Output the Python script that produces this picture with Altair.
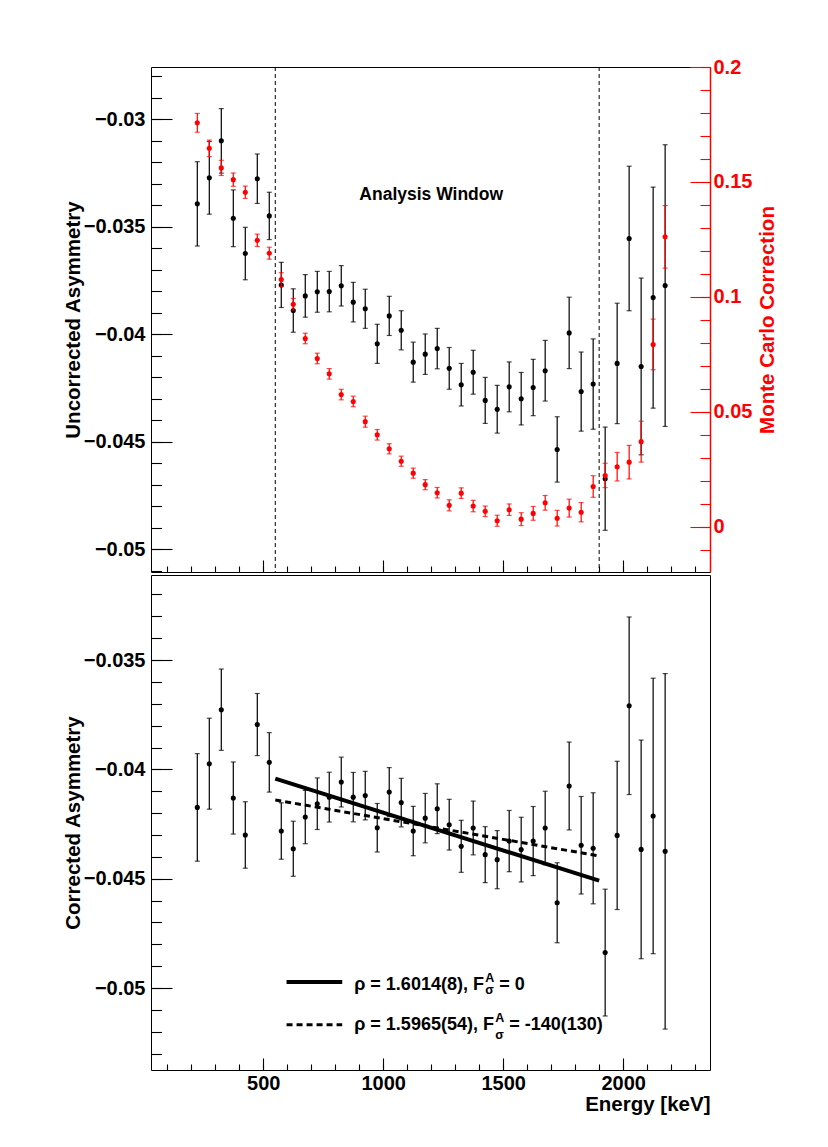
import altair as alt
import pandas as pd

FONT = "Liberation Sans"
RED = "#ff0000"

# ---------------- data ----------------
energy = [225, 275, 325, 375, 425, 475, 525, 575, 625, 675,
          725, 775, 825, 875, 925, 975, 1025, 1075, 1125, 1175,
          1225, 1275, 1325, 1375, 1425, 1475, 1525, 1575, 1625, 1675,
          1725, 1775, 1825, 1875, 1925, 1975, 2025, 2075, 2125, 2175]

uncorr = [-0.03393, -0.03272, -0.03100, -0.03460, -0.03624, -0.03276, -0.03449, -0.03770, -0.03889, -0.03821,
          -0.03802, -0.03801, -0.03774, -0.03850, -0.03881, -0.04044, -0.03914, -0.03981, -0.04129, -0.04092,
          -0.04066, -0.04158, -0.04234, -0.04176, -0.04307, -0.04348, -0.04244, -0.04299, -0.04247, -0.04169,
          -0.04535, -0.03993, -0.04266, -0.04231, -0.04671, -0.04135, -0.03554, -0.04149, -0.03829, -0.03773]
uncorr_err = [0.00196, 0.00169, 0.00150, 0.00132, 0.00122, 0.00115, 0.00110, 0.00105, 0.00101, 0.00099,
              0.00095, 0.00094, 0.00094, 0.00092, 0.00091, 0.00091, 0.00091, 0.00091, 0.00093, 0.00094,
              0.00094, 0.00097, 0.00099, 0.00102, 0.00107, 0.00111, 0.00116, 0.00122, 0.00131, 0.00141,
              0.00152, 0.00166, 0.00184, 0.00210, 0.00240, 0.00280, 0.00336, 0.00411, 0.00514, 0.00655]

mc_corr = [0.1757, 0.1646, 0.1561, 0.1510, 0.1455, 0.1246, 0.1190, 0.1075, 0.0968, 0.0819,
           0.0732, 0.0665, 0.0575, 0.0545, 0.0457, 0.0400, 0.0339, 0.0285, 0.0233, 0.0183,
           0.0148, 0.0093, 0.0146, 0.0090, 0.0067, 0.0026, 0.0074, 0.0033, 0.0058, 0.0104,
           0.0037, 0.0081, 0.0063, 0.0175, 0.0223, 0.0261, 0.0281, 0.0370, 0.0793, 0.1261]
mc_err = [0.0041, 0.0036, 0.0033, 0.0029, 0.0027, 0.0027, 0.0026, 0.0030, 0.0025, 0.0023,
          0.0023, 0.0023, 0.0023, 0.0023, 0.0024, 0.0023, 0.0022, 0.0022, 0.0022, 0.0022,
          0.0023, 0.0024, 0.0023, 0.0025, 0.0023, 0.0024, 0.0025, 0.0028, 0.0030, 0.0032,
          0.0034, 0.0039, 0.0042, 0.0047, 0.0053, 0.0062, 0.0073, 0.0089, 0.0110, 0.0136]

corr = [-0.04174, -0.03974, -0.03727, -0.04131, -0.04300, -0.03795, -0.03968, -0.04282, -0.04363, -0.04218,
        -0.04157, -0.04127, -0.04058, -0.04127, -0.04120, -0.04267, -0.04104, -0.04152, -0.04282, -0.04223,
        -0.04180, -0.04253, -0.04352, -0.04268, -0.04390, -0.04413, -0.04328, -0.04367, -0.04328, -0.04268,
        -0.04610, -0.04076, -0.04347, -0.04361, -0.04838, -0.04302, -0.03709, -0.04366, -0.04213, -0.04375]
corr_err = [0.00246, 0.00208, 0.00186, 0.00165, 0.00152, 0.00142, 0.00136, 0.00129, 0.00126, 0.00122,
            0.00118, 0.00114, 0.00114, 0.00113, 0.00111, 0.00111, 0.00112, 0.00111, 0.00113, 0.00113,
            0.00114, 0.00116, 0.00119, 0.00123, 0.00128, 0.00133, 0.00140, 0.00148, 0.00158, 0.00168,
            0.00183, 0.00201, 0.00223, 0.00254, 0.00290, 0.00339, 0.00406, 0.00500, 0.00630, 0.00813]

window_edges = [550, 1900]
fit_x = [550, 1900]
fit_const = [-0.04042, -0.04509]     # rho = 1.6014(8), F = 0
fit_free = [-0.04140, -0.04396]      # rho = 1.5965(54), F = -140(130)

# axis tick values
x_major = [500, 1000, 1500, 2000]
x_minor = [100, 200, 300, 400, 500, 600, 700, 800, 900, 1000, 1100, 1200,
           1300, 1400, 1500, 1600, 1700, 1800, 1900, 2000, 2100, 2200, 2300]
yl_major = [-0.05, -0.045, -0.04, -0.035, -0.03]
yl_minor = [-0.051, -0.050, -0.049, -0.048, -0.047, -0.046, -0.045, -0.044, -0.043, -0.042,
            -0.041, -0.040, -0.039, -0.038, -0.037, -0.036, -0.035, -0.034, -0.033, -0.032,
            -0.031, -0.030, -0.029, -0.028]
yr_major = [0, 0.05, 0.1, 0.15, 0.2]
yr_minor = [-0.01, 0.0, 0.01, 0.02, 0.03, 0.04, 0.05, 0.06, 0.07, 0.08, 0.09, 0.1,
            0.11, 0.12, 0.13, 0.14, 0.15, 0.16, 0.17, 0.18, 0.19, 0.2]
yb_major = [-0.05, -0.045, -0.04, -0.035]
yb_minor = [-0.053, -0.052, -0.051, -0.050, -0.049, -0.048, -0.047, -0.046, -0.045, -0.044,
            -0.043, -0.042, -0.041, -0.040, -0.039, -0.038, -0.037, -0.036, -0.035, -0.034,
            -0.033, -0.032]

# legend texts
leg_main_text = ["\u03c1 = 1.6014(8), F", "\u03c1 = 1.5965(54), F"]
leg_tail_text = ["= 0", "= -140(130)"]

# ---------------- scales ----------------
XS = alt.Scale(domain=[32, 2362], nice=False, zero=False)
YL = alt.Scale(domain=[-0.05105, -0.027565], nice=False, zero=False)
YR = alt.Scale(domain=[-0.0197, 0.2], nice=False, zero=False)
YB = alt.Scale(domain=[-0.05375, -0.03111], nice=False, zero=False)


def axis(orient, size, values, color="black", labels=False, fmt=None, title=None, **kw):
    a = dict(orient=orient, offset=-size, tickSize=size, values=values, domain=False,
             grid=False, labels=labels, tickColor=color, tickWidth=1.1, title=title)
    if labels:
        a.update(format=fmt, labelFont=FONT, labelFontSize=20, labelFontWeight="bold",
                 labelColor=color, labelOverlap=False, labelBound=False, labelFlush=False)
    if title:
        a.update(titleFont=FONT, titleFontSize=20.5, titleFontWeight="bold", titleColor=color)
    a.update(kw)
    return alt.Axis(**a)


top_df = pd.DataFrame({
    "E": energy,
    "u": uncorr,
    "u_lo": [v - e for v, e in zip(uncorr, uncorr_err)],
    "u_hi": [v + e for v, e in zip(uncorr, uncorr_err)],
    "m": mc_corr,
    "m_lo": [v - e for v, e in zip(mc_corr, mc_err)],
    "m_hi": [v + e for v, e in zip(mc_corr, mc_err)],
})
bot_df = pd.DataFrame({
    "E": energy,
    "c": corr,
    "c_lo": [v - e for v, e in zip(corr, corr_err)],
    "c_hi": [v + e for v, e in zip(corr, corr_err)],
})

base_t = alt.Chart(top_df)
PT = 26

# ---- top panel ----
t_rule = base_t.mark_rule(color="black", strokeWidth=1.2).encode(
    x=alt.X("E:Q", scale=XS, axis=axis("bottom", 12, x_major)),
    y=alt.Y("u_lo:Q", scale=YL,
            axis=axis("left", 21, yl_major, labels=True, fmt=".3~f",
                      title="Uncorrected Asymmetry", labelPadding=6, titlePadding=0)),
    y2="u_hi:Q",
)
t_cap_lo = base_t.mark_tick(color="black", orient="horizontal", size=5, thickness=1.2).encode(
    x=alt.X("E:Q", scale=XS, axis=axis("bottom", 6, x_minor)),
    y=alt.Y("u_lo:Q", scale=YL, axis=axis("left", 10.5, yl_minor)),
)
t_cap_hi = base_t.mark_tick(color="black", orient="horizontal", size=5, thickness=1.2).encode(
    x=alt.X("E:Q", scale=XS, axis=None),
    y=alt.Y("u_hi:Q", scale=YL, axis=None),
)
t_pts = base_t.mark_circle(color="black", size=PT, opacity=1).encode(
    x=alt.X("E:Q", scale=XS, axis=None),
    y=alt.Y("u:Q", scale=YL, axis=None),
)
r_rule = base_t.mark_rule(color=RED, strokeWidth=1.2).encode(
    x=alt.X("E:Q", scale=XS, axis=None),
    y=alt.Y("m_lo:Q", scale=YR,
            axis=axis("right", 20, yr_major, color=RED, labels=True, fmt=".2~f",
                      title="Monte Carlo Correction", labelPadding=3, titlePadding=6,
                      titleAngle=270, titleBaseline="top")),
    y2="m_hi:Q",
)
r_cap_lo = base_t.mark_tick(color=RED, orient="horizontal", size=5, thickness=1.2).encode(
    x=alt.X("E:Q", scale=XS, axis=None),
    y=alt.Y("m_lo:Q", scale=YR, axis=axis("right", 10, yr_minor, color=RED)),
)
r_cap_hi = base_t.mark_tick(color=RED, orient="horizontal", size=5, thickness=1.2).encode(
    x=alt.X("E:Q", scale=XS, axis=None),
    y=alt.Y("m_hi:Q", scale=YR,
            axis=alt.Axis(orient="right", offset=0, ticks=False, labels=False, grid=False,
                          domain=True, domainColor=RED, domainWidth=1.5, title=None)),
)
r_pts = base_t.mark_circle(color=RED, size=PT, opacity=1).encode(
    x=alt.X("E:Q", scale=XS, axis=None),
    y=alt.Y("m:Q", scale=YR, axis=None),
)
vlines = alt.Chart(pd.DataFrame({"E": window_edges})).mark_rule(
    color="black", strokeWidth=1, strokeDash=[4, 3]).encode(
    x=alt.X("E:Q", scale=XS, axis=None))
win_text = alt.Chart(pd.DataFrame({"E": [1200], "y": [-0.0335], "t": ["Analysis Window"]})).mark_text(
    font=FONT, fontSize=17.5, fontWeight="bold", color="black", align="center", baseline="middle"
).encode(
    x=alt.X("E:Q", scale=XS, axis=None),
    y=alt.Y("y:Q", scale=YL, axis=None),
    text="t:N",
)

top = alt.layer(vlines, t_rule, t_cap_lo, t_cap_hi, t_pts, r_rule, r_cap_lo, r_cap_hi, r_pts, win_text).resolve_scale(
    y="independent").resolve_axis(x="independent", y="independent").properties(width=559, height=505)

# ---- bottom panel ----
base_b = alt.Chart(bot_df)
b_rule = base_b.mark_rule(color="black", strokeWidth=1.2).encode(
    x=alt.X("E:Q", scale=XS,
            axis=axis("bottom", 12, x_major, labels=True, fmt="d", title="Energy [keV]",
                      labelPadding=3, titlePadding=1, titleAnchor="end")),
    y=alt.Y("c_lo:Q", scale=YB,
            axis=axis("left", 21, yb_major, labels=True, fmt=".3~f",
                      title="Corrected Asymmetry", labelPadding=6, titlePadding=0)),
    y2="c_hi:Q",
)
b_cap_lo = base_b.mark_tick(color="black", orient="horizontal", size=5, thickness=1.2).encode(
    x=alt.X("E:Q", scale=XS, axis=axis("bottom", 6, x_minor)),
    y=alt.Y("c_lo:Q", scale=YB, axis=axis("left", 10.5, yb_minor)),
)
b_cap_hi = base_b.mark_tick(color="black", orient="horizontal", size=5, thickness=1.2).encode(
    x=alt.X("E:Q", scale=XS, axis=None),
    y=alt.Y("c_hi:Q", scale=YB, axis=None),
)
b_pts = base_b.mark_circle(color="black", size=PT, opacity=1).encode(
    x=alt.X("E:Q", scale=XS, axis=None),
    y=alt.Y("c:Q", scale=YB, axis=None),
)
fit_df = pd.DataFrame({"E": fit_x, "a": fit_const, "b": fit_free})
fit_solid = alt.Chart(fit_df).mark_line(color="black", strokeWidth=4).encode(
    x=alt.X("E:Q", scale=XS, axis=None), y=alt.Y("a:Q", scale=YB, axis=None))
fit_dash = alt.Chart(fit_df).mark_line(color="black", strokeWidth=3, strokeDash=[6, 4]).encode(
    x=alt.X("E:Q", scale=XS, axis=None), y=alt.Y("b:Q", scale=YB, axis=None))

# legend (data coordinates)
leg_x = [597, 829]
leg_y1 = [-0.04973, -0.04973]
leg_y2 = [-0.05168, -0.05168]
leg_solid = alt.Chart(pd.DataFrame({"E": leg_x, "y": leg_y1})).mark_line(color="black", strokeWidth=4).encode(
    x=alt.X("E:Q", scale=XS, axis=None), y=alt.Y("y:Q", scale=YB, axis=None))
leg_dash = alt.Chart(pd.DataFrame({"E": leg_x, "y": leg_y2})).mark_line(
    color="black", strokeWidth=3, strokeDash=[6, 4]).encode(
    x=alt.X("E:Q", scale=XS, axis=None), y=alt.Y("y:Q", scale=YB, axis=None))

leg_main = pd.DataFrame({"E": [879, 879], "y": [-0.05011, -0.05193], "t": leg_main_text})
leg_tail = pd.DataFrame({"E": [1484, 1525], "y": [-0.05011, -0.05193], "t": leg_tail_text})
leg_sup = pd.DataFrame({"E": [1425, 1467], "y": [-0.04974, -0.05157], "t": ["A", "A"]})
leg_sub = pd.DataFrame({"E": [1425, 1467], "y": [-0.05029, -0.05235], "t": ["\u03c3", "\u03c3"]})


def txt(df, align, size):
    return alt.Chart(df).mark_text(font=FONT, fontSize=size, fontWeight="bold", color="black",
                                   align=align, baseline="alphabetic").encode(
        x=alt.X("E:Q", scale=XS, axis=None), y=alt.Y("y:Q", scale=YB, axis=None), text="t:N")


bottom = alt.layer(b_rule, b_cap_lo, b_cap_hi, b_pts, fit_dash, fit_solid, leg_solid, leg_dash,
                   txt(leg_main, "left", 18), txt(leg_tail, "left", 18),
                   txt(leg_sup, "left", 12.5), txt(leg_sub, "left", 12.5)).resolve_axis(
    x="independent", y="independent").properties(width=559, height=495)

chart = alt.vconcat(top, bottom, spacing=0).properties(
    padding={"left": 54, "top": 48, "right": 5, "bottom": 5}
).configure_view(stroke="black", strokeWidth=1)

chart.save("out.html", embed_options={"renderer": "svg", "actions": False})
